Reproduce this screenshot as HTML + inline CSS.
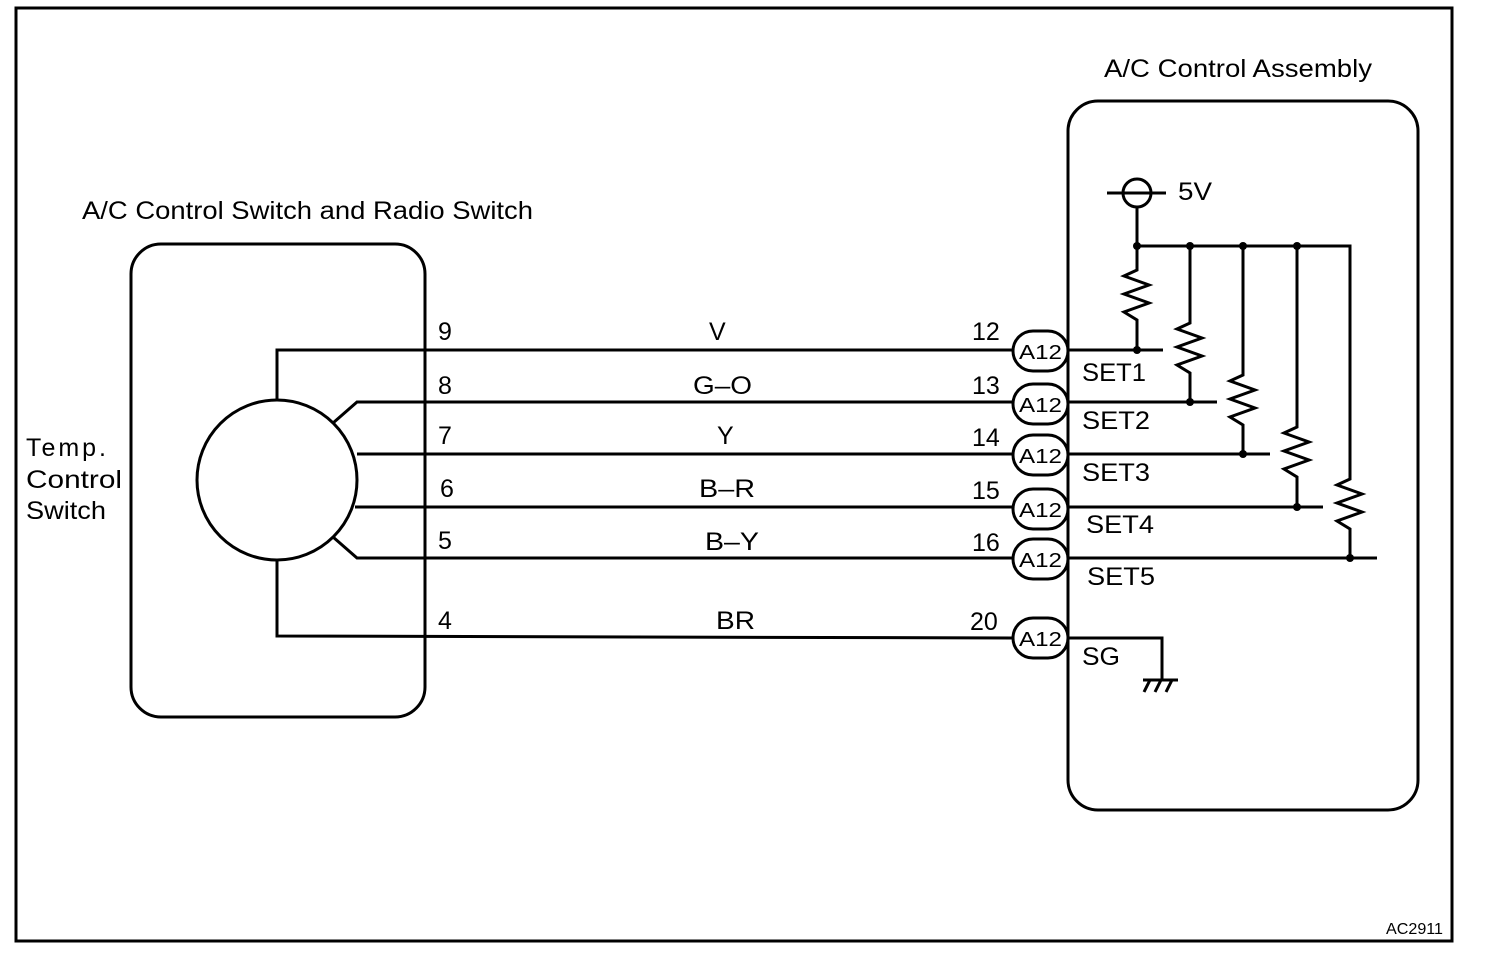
<!DOCTYPE html>
<html><head><meta charset="utf-8"><style>
html,body{margin:0;padding:0;background:#fff;}
svg{display:block;}
text{font-family:"Liberation Sans",Arial,sans-serif;fill:#000;}
</style></head><body>
<svg width="1504" height="974" viewBox="0 0 1504 974" xmlns="http://www.w3.org/2000/svg">
<g fill="none" stroke="#000" stroke-width="3">
<rect x="16" y="8" width="1436" height="933"/>
<rect x="131" y="244" width="294" height="473" rx="30"/>
<rect x="1068" y="101" width="350" height="709" rx="30"/>
<circle cx="277" cy="480" r="80"/>
<polyline points="277,400 277,350 1012,350"/>
<polyline points="333,423 357,402 1012,402"/>
<polyline points="357,454 1012,454"/>
<polyline points="355,507 1012,507"/>
<polyline points="333,537 357,558 1012,558"/>
<polyline points="277,560 277,636 1012,638"/>
<rect x="1013" y="331" width="55" height="40" rx="20"/>
<rect x="1013" y="384" width="55" height="40" rx="20"/>
<rect x="1013" y="435" width="55" height="40" rx="20"/>
<rect x="1013" y="489" width="55" height="40" rx="20"/>
<rect x="1013" y="539" width="55" height="40" rx="20"/>
<rect x="1013" y="618" width="55" height="40" rx="20"/>
<line x1="1068" y1="350" x2="1163" y2="350"/>
<line x1="1068" y1="402" x2="1217" y2="402"/>
<line x1="1068" y1="454" x2="1270" y2="454"/>
<line x1="1068" y1="507" x2="1323" y2="507"/>
<line x1="1068" y1="558" x2="1377" y2="558"/>
<circle cx="1137" cy="193" r="14"/>
<line x1="1107" y1="193" x2="1166" y2="193"/>
<line x1="1137" y1="207" x2="1137" y2="246"/>
<polyline points="1137,246 1350,246 1350,310"/>
<polyline points="1137,246 1137,270 1124,276 1149,285 1124,294 1149,303 1124,312 1137,320 1137,350"/>
<polyline points="1190,246 1190,323 1177,329 1202,338 1177,347 1202,356 1177,365 1190,373 1190,402"/>
<polyline points="1243,246 1243,375 1230,381 1255,390 1230,399 1255,408 1230,417 1243,425 1243,454"/>
<polyline points="1297,246 1297,427 1284,433 1309,442 1284,451 1309,460 1284,469 1297,477 1297,507"/>
<polyline points="1350,300 1350,479 1337,485 1362,494 1337,503 1362,512 1337,521 1350,529 1350,558"/>
<polyline points="1068,638 1162,638 1162,679"/>
<line x1="1143" y1="680" x2="1178" y2="680"/>
<line x1="1150" y1="680" x2="1144" y2="692"/>
<line x1="1161" y1="680" x2="1155" y2="692"/>
<line x1="1172" y1="680" x2="1166" y2="692"/>
</g>
<g fill="#000">
<circle cx="1137" cy="246" r="4"/><circle cx="1190" cy="246" r="4"/><circle cx="1243" cy="246" r="4"/><circle cx="1297" cy="246" r="4"/>
<circle cx="1137" cy="350" r="4"/><circle cx="1190" cy="402" r="4"/><circle cx="1243" cy="454" r="4"/><circle cx="1297" cy="507" r="4"/><circle cx="1350" cy="558" r="4"/>
</g>
<g font-size="25">
<text x="82" y="219" textLength="451" lengthAdjust="spacingAndGlyphs">A/C Control Switch and Radio Switch</text>
<text x="1104" y="77" textLength="268" lengthAdjust="spacingAndGlyphs">A/C Control Assembly</text>
<text x="1178" y="200" textLength="34" lengthAdjust="spacingAndGlyphs">5V</text>
<text x="26" y="456" textLength="80" lengthAdjust="spacing">Temp.</text>
<text x="26" y="488" textLength="96" lengthAdjust="spacingAndGlyphs">Control</text>
<text x="26" y="519" textLength="80" lengthAdjust="spacingAndGlyphs">Switch</text>
<text x="438" y="340">9</text><text x="709" y="340">V</text><text x="972" y="340">12</text>
<text x="438" y="394">8</text><text x="693" y="394" textLength="59" lengthAdjust="spacingAndGlyphs">G–O</text><text x="972" y="394">13</text>
<text x="438" y="444">7</text><text x="717" y="444">Y</text><text x="972" y="446">14</text>
<text x="440" y="497">6</text><text x="699" y="497" textLength="56" lengthAdjust="spacingAndGlyphs">B–R</text><text x="972" y="499">15</text>
<text x="438" y="549">5</text><text x="705" y="550" textLength="54" lengthAdjust="spacingAndGlyphs">B–Y</text><text x="972" y="551">16</text>
<text x="438" y="629">4</text><text x="716" y="629" textLength="39" lengthAdjust="spacingAndGlyphs">BR</text><text x="970" y="630">20</text>
<text x="1082" y="381" textLength="64" lengthAdjust="spacingAndGlyphs">SET1</text>
<text x="1082" y="429" textLength="68" lengthAdjust="spacingAndGlyphs">SET2</text>
<text x="1082" y="481" textLength="68" lengthAdjust="spacingAndGlyphs">SET3</text>
<text x="1086" y="533" textLength="68" lengthAdjust="spacingAndGlyphs">SET4</text>
<text x="1087" y="585" textLength="68" lengthAdjust="spacingAndGlyphs">SET5</text>
<text x="1082" y="665" textLength="38" lengthAdjust="spacingAndGlyphs">SG</text>
</g>
<g font-size="20">
<text x="1019" y="359" textLength="43" lengthAdjust="spacingAndGlyphs">A12</text>
<text x="1019" y="412" textLength="43" lengthAdjust="spacingAndGlyphs">A12</text>
<text x="1019" y="463" textLength="43" lengthAdjust="spacingAndGlyphs">A12</text>
<text x="1019" y="517" textLength="43" lengthAdjust="spacingAndGlyphs">A12</text>
<text x="1019" y="567" textLength="43" lengthAdjust="spacingAndGlyphs">A12</text>
<text x="1019" y="646" textLength="43" lengthAdjust="spacingAndGlyphs">A12</text>
</g>
<text x="1386" y="934" font-size="16" textLength="57" lengthAdjust="spacingAndGlyphs">AC2911</text>
</svg>
</body></html>
